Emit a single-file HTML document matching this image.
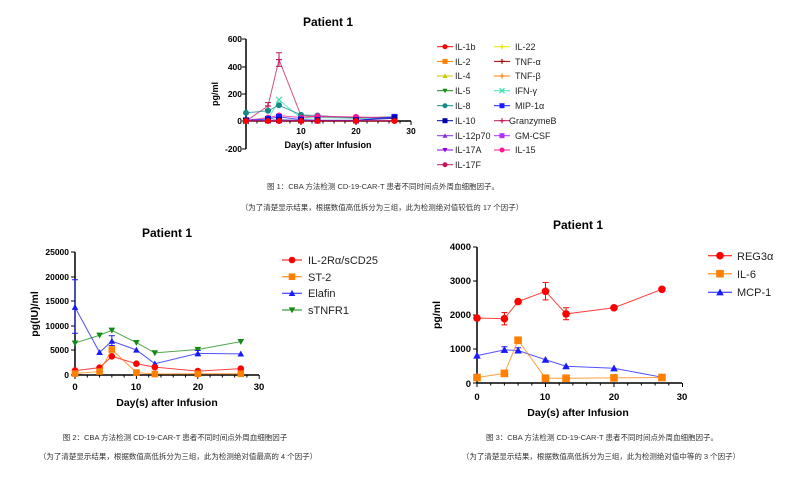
<!DOCTYPE html>
<html><head><meta charset="utf-8"><style>
body{margin:0;background:#fff;width:794px;height:478px;overflow:hidden}
svg{position:absolute;left:0;top:0}
text{font-family:"Liberation Sans",Arial,sans-serif}
.t{font-weight:bold;font-size:12px}
.tk{font-weight:bold;font-size:8.5px}
.tk2{font-weight:bold;font-size:9.5px}
.lg{font-size:9px;fill:#222}
.lg2{font-size:11px;fill:#222}
.cap{font-family:"Liberation Sans","Noto Sans CJK SC",sans-serif;font-size:7.5px;fill:#333}
</style></head><body>
<svg id="s" width="794" height="478" viewBox="0 0 794 478">
<g id="g"></g>
<!-- chart1 text -->
<text class="t" x="328" y="26" text-anchor="middle">Patient 1</text>
<g class="tk" text-anchor="end">
<text x="242" y="42">600</text><text x="242" y="70">400</text><text x="242" y="97">200</text><text x="242" y="124">0</text><text x="242" y="152">-200</text></g>
<g class="tk" text-anchor="middle"><text x="301" y="134">10</text><text x="356" y="134">20</text><text x="411" y="134">30</text></g>
<text class="tk" x="328" y="148" text-anchor="middle" style="font-size:9px">Day(s) after Infusion</text>
<text class="tk" transform="translate(218,94) rotate(-90)" text-anchor="middle" style="font-size:9px">pg/ml</text>
<g class="lg">
<text x="455" y="50">IL-1b</text><text x="455" y="65">IL-2</text><text x="455" y="79">IL-4</text><text x="455" y="94">IL-5</text><text x="455" y="109">IL-8</text><text x="455" y="124">IL-10</text><text x="455" y="139">IL-12p70</text><text x="455" y="153">IL-17A</text><text x="455" y="168">IL-17F</text>
<text x="515" y="50">IL-22</text><text x="515" y="65">TNF-α</text><text x="515" y="79">TNF-β</text><text x="515" y="94">IFN-γ</text><text x="515" y="109">MIP-1α</text><text x="509" y="124">GranzymeB</text><text x="515" y="139">GM-CSF</text><text x="515" y="153">IL-15</text></g>
<text class="cap" x="383" y="189" text-anchor="middle">图 1：CBA 方法检测 CD-19-CAR-T 患者不同时间点外周血细胞因子。</text>
<text class="cap" x="382" y="210" text-anchor="middle">（为了清楚显示结果，根据数值高低拆分为三组，此为检测绝对值较低的 17 个因子）</text>
<!-- chart2 text -->
<text class="t" x="167" y="237" text-anchor="middle">Patient 1</text>
<g class="tk" text-anchor="end">
<text x="69" y="255">25000</text><text x="69" y="280">20000</text><text x="69" y="304">15000</text><text x="69" y="329">10000</text><text x="69" y="353">5000</text><text x="69" y="378">0</text></g>
<g class="tk2" text-anchor="middle"><text x="75" y="390">0</text><text x="136" y="390">10</text><text x="198" y="390">20</text><text x="259" y="390">30</text></g>
<text class="t" x="167" y="406" text-anchor="middle" style="font-size:10.5px">Day(s) after Infusion</text>
<text class="t" transform="translate(38,314) rotate(-90)" text-anchor="middle" style="font-size:10.5px">pg(IU)/ml</text>
<g class="lg2"><text x="308" y="264">IL-2Rα/sCD25</text><text x="308" y="281">ST-2</text><text x="308" y="297">Elafin</text><text x="308" y="314">sTNFR1</text></g>
<text class="cap" x="175" y="440" text-anchor="middle">图 2：CBA 方法检测 CD-19-CAR-T 患者不同时间点外周血细胞因子</text>
<text class="cap" x="178" y="459" text-anchor="middle">（为了清楚显示结果，根据数值高低拆分为三组，此为检测绝对值最高的 4 个因子）</text>
<!-- chart3 text -->
<text class="t" x="578" y="229" text-anchor="middle">Patient 1</text>
<g class="tk2" text-anchor="end">
<text x="471" y="250">4000</text><text x="471" y="284">3000</text><text x="471" y="318">2000</text><text x="471" y="352">1000</text><text x="471" y="387">0</text></g>
<g class="tk2" text-anchor="middle"><text x="477" y="400">0</text><text x="545" y="400">10</text><text x="614" y="400">20</text><text x="682" y="400">30</text></g>
<text class="t" x="578" y="416" text-anchor="middle" style="font-size:10.5px">Day(s) after Infusion</text>
<text class="t" transform="translate(440,315) rotate(-90)" text-anchor="middle" style="font-size:10.5px">pg/ml</text>
<g class="lg2"><text x="737" y="260">REG3α</text><text x="737" y="278">IL-6</text><text x="737" y="296">MCP-1</text></g>
<text class="cap" x="602" y="440" text-anchor="middle">图 3：CBA 方法检测 CD-19-CAR-T 患者不同时间点外周血细胞因子。</text>
<text class="cap" x="601" y="459" text-anchor="middle">（为了清楚显示结果，根据数值高低拆分为三组，此为检测绝对值中等的 3 个因子）</text>
</svg>
<script>
var g=document.getElementById('g'),h='';
function L(x1,y1,x2,y2,c,w){h+='<line x1="'+x1+'" y1="'+y1+'" x2="'+x2+'" y2="'+y2+'" stroke="'+(c||'#000')+'" stroke-width="'+(w||1)+'"/>';}
function M(x,y,t,c,r){if(t=='o')h+='<circle cx="'+x+'" cy="'+y+'" r="'+r+'" fill="'+c+'"/>';
else if(t=='s')h+='<rect x="'+(x-r)+'" y="'+(y-r)+'" width="'+2*r+'" height="'+2*r+'" fill="'+c+'"/>';
else if(t=='^')h+='<polygon points="'+x+','+(y-r)+' '+(x-r)+','+(y+r*0.8)+' '+(x+r)+','+(y+r*0.8)+'" fill="'+c+'"/>';
else if(t=='v')h+='<polygon points="'+x+','+(y+r)+' '+(x-r)+','+(y-r*0.8)+' '+(x+r)+','+(y-r*0.8)+'" fill="'+c+'"/>';
else if(t=='x'){L(x-r,y-r,x+r,y+r,c,1.2);L(x-r,y+r,x+r,y-r,c,1.2);}
else if(t=='+'){L(x-r,y,x+r,y,c,1.2);L(x,y-r,x,y+r,c,1.2);}}
var D=[0,4,6,10,13,20,27];
function chart(X0,XS,Y0,YS,ser,r){ser.forEach(function(s){var p=s.v.map(function(v,i){return [X0+D[i]*XS,Y0-v*YS];});
h+='<polyline points="'+p.join(' ')+'" fill="none" stroke="'+s.c+'" stroke-opacity="0.75" stroke-width="1"/>';
(s.e||[]).forEach(function(e){var x=X0+D[e[0]]*XS;L(x,Y0-e[1]*YS,x,Y0-e[2]*YS,s.c);L(x-3,Y0-e[1]*YS,x+3,Y0-e[1]*YS,s.c);L(x-3,Y0-e[2]*YS,x+3,Y0-e[2]*YS,s.c);});
p.forEach(function(q){M(q[0],q[1],s.m,s.c,r);});});}
function axes(x0,x1,yTop,yBot,yAx,ticksX,xs,minor,yt){L(x0,yTop,x0,yBot,'#000',1.5);L(x0,yAx,x1,yAx,'#000',1.5);
yt.forEach(function(y){L(x0-4,y,x0,y);});
for(var d=0;d<=30;d+=minor){var x=x0+d*xs;L(x,yAx,x,yAx+(d%10==0?4:2.5));}}
// chart1
axes(246,411,39,149,121,0,5.5,2,[39,67,94,121,149]);
var s1=[
{c:'#c2185b',m:'+',v:[0,110,450,40,30,25,30],e:[[1,85,135],[2,400,500]]},
{c:'#40e0b0',m:'x',v:[0,10,155,20,25,20,20]},
{c:'#138a8a',m:'o',v:[60,75,115,45,40,20,30]},
{c:'#ff1493',m:'o',v:[5,25,40,25,35,30,20]},
{c:'#1a1aff',m:'s',v:[5,15,30,10,5,5,30]},
{c:'#0000aa',m:'s',v:[3,5,8,5,5,5,20]},
{c:'#8a2be2',m:'^',v:[2,3,5,3,3,3,3]},
{c:'#ff0000',m:'o',v:[0,0,0,0,0,0,0]}];
chart(246,5.5,121,27.3/200,s1,3);
// chart2
axes(75,259,252,375,375,0,6.14,2,[252,277,301,326,350,375]);
chart(75,6.14,375,4.91/1000,[
{c:'#138a13',m:'v',v:[6500,8100,9100,6600,4500,5200,6800]},
{c:'#1a1aff',m:'^',v:[13800,4600,6900,5100,2300,4400,4300],e:[[0,8500,19400],[2,6000,8000],[5,3900,5000]]},
{c:'#ff0000',m:'o',v:[900,1500,3800,2300,1600,800,1300]},
{c:'#ff7f00',m:'s',v:[300,700,5200,500,200,250,250]}],3.3);
// chart3
axes(477,682,247,383,383,0,6.85,2,[247,281,315,349,383]);
chart(477,6.85,383,34.2/1000,[
{c:'#ff0000',m:'o',v:[1900,1880,2380,2680,2020,2200,2740],e:[[1,1700,2060],[3,2430,2940],[4,1850,2200]]},
{c:'#1a1aff',m:'^',v:[800,970,950,680,490,430,170],e:[[1,900,1060],[2,880,1030]]},
{c:'#ff7f00',m:'s',v:[160,280,1250,140,140,150,160]}],3.8);
// legends
var lg1=[['#ff0000','o'],['#ff7f00','s'],['#c8c800','^'],['#138a13','v'],['#138a8a','o'],['#0000aa','s'],['#8a2be2','^'],['#9400d3','v'],['#c2185b','o']];
var lg1b=[['#e6e600','+'],['#a00000','+'],['#ff7f00','+'],['#40e0b0','x'],['#1a1aff','s'],['#c2185b','+'],['#b030ff','s'],['#ff1493','o']];
var ys=[46.7,61.4,76,90.7,105.7,120.7,135.7,150,164.7];
lg1.forEach(function(a,i){L(437,ys[i],453,ys[i],a[0]);M(445,ys[i],a[1],a[0],2.5);});
lg1b.forEach(function(a,i){L(494,ys[i],510,ys[i],a[0]);M(502,ys[i],a[1],a[0],2.5);});
[['#ff0000','o'],['#ff7f00','s'],['#1a1aff','^'],['#138a13','v']].forEach(function(a,i){var y=[260,276.7,293.3,310][i];L(282,y,302,y,a[0]);M(292,y,a[1],a[0],3.3);});
[['#ff0000','o'],['#ff7f00','s'],['#1a1aff','^']].forEach(function(a,i){var y=[255.7,273.7,292.3][i];L(708,y,732,y,a[0]);M(720,y,a[1],a[0],3.8);});
g.innerHTML=h;
</script>
</body></html>
